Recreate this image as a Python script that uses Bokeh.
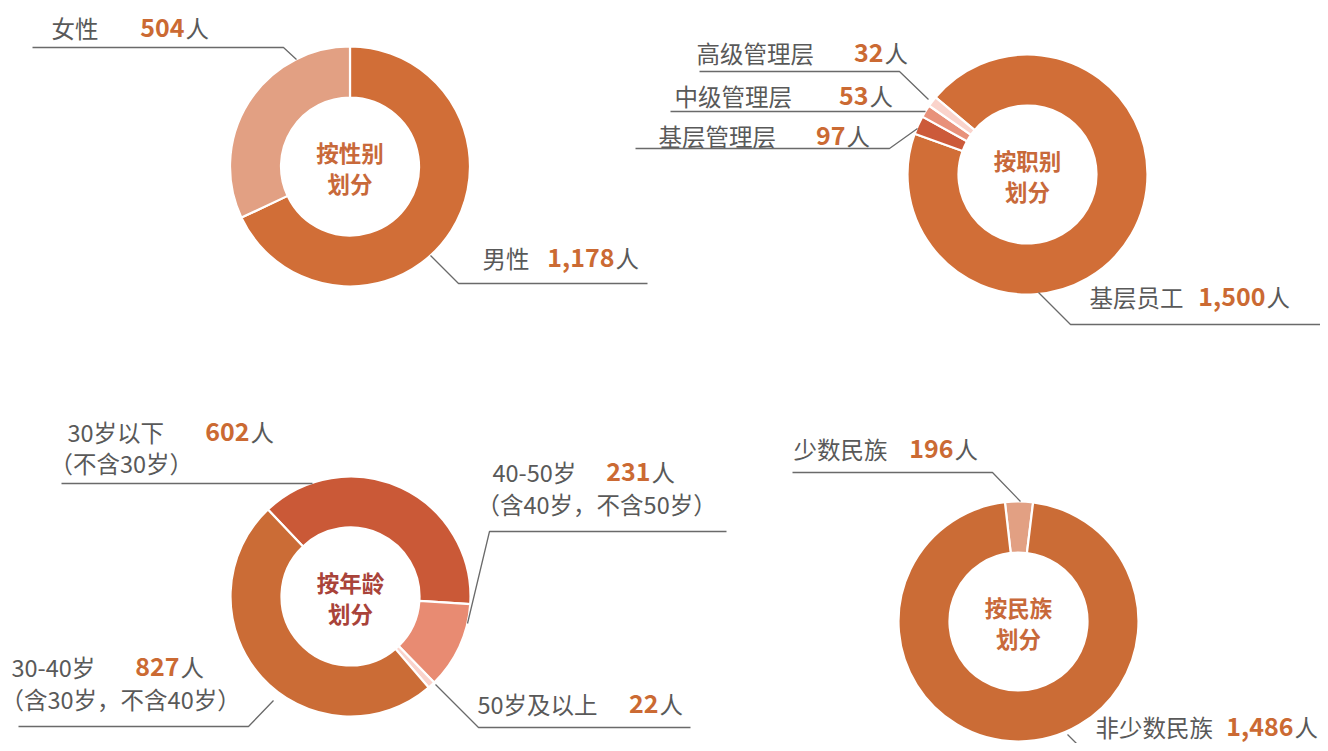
import math
from bokeh.plotting import figure
from bokeh.models import Range1d, ColumnDataSource
from bokeh.embed import file_html
from bokeh.resources import INLINE
from bokeh.core.properties import value

# ---------------- data ----------------
gender_labels = ["男性", "女性"]
gender_counts = [1178, 504]
gender_share = [68.0, 32.0]          # share of the ring as drawn (%)

level_labels = ["基层员工", "基层管理层", "中级管理层", "高级管理层"]
level_counts = [1500, 97, 53, 32]
level_share = [94.4, 2.5, 1.7, 1.4]

age_labels = ["30岁以下", "40-50岁", "50岁及以上", "30-40岁"]
age_notes = ["（不含30岁）", "（含40岁，不含50岁）", "", "（含30岁，不含40岁）"]
age_counts = [602, 231, 22, 827]
age_share = [38.1, 11.7, 1.0, 49.2]

ethnic_labels = ["少数民族", "非少数民族"]
ethnic_counts = [196, 1486]
ethnic_share = [3.75, 96.25]

unit = "人"

# ---------------- styles ----------------
FONT = value("Noto Sans CJK SC")
LABEL_C = "#595959"
NUM_C = "#CB6A33"
LINE_C = "#6A6A6A"
LAB_FS = "23.5px"
NUM_FS = "25px"
R_IN, R_OUT = 69, 120

W, H = 1320, 743
p = figure(width=W, height=H, x_range=Range1d(0, W), y_range=Range1d(0, H),
           output_backend="svg", toolbar_location=None, min_border=0,
           x_axis_type=None, y_axis_type=None)
p.grid.visible = False
p.outline_line_color = None
p.background_fill_color = "white"
p.border_fill_color = "white"


def Y(y):
    return H - y


def donut(cx, cy, start_cw, shares, colors, title, title_color):
    total = float(sum(shares))
    starts, ends = [], []
    acc = start_cw
    for s in shares:
        a1, a2 = acc, acc + s / total * 360.0
        starts.append(math.radians(90 - a2))
        ends.append(math.radians(90 - a1))
        acc = a2
    n = len(shares)
    src = ColumnDataSource(dict(x=[cx] * n, y=[Y(cy)] * n, s=starts, e=ends, c=colors))
    p.annular_wedge(x="x", y="y", inner_radius=R_IN, outer_radius=R_OUT,
                    start_angle="s", end_angle="e", fill_color="c",
                    line_color="white", line_width=2.2, source=src)
    p.text(x=[cx, cx], y=[Y(cy - 15), Y(cy + 16)], text=title,
           text_font=FONT, text_font_size="22.5px", text_font_style="bold",
           text_color=title_color, text_align="center", text_baseline="middle")


def labels(names, counts, lab_x, lab_y, ren_x):
    p.text(x=lab_x, y=[Y(v) for v in lab_y], text=names, text_font=FONT,
           text_font_size=LAB_FS, text_color=LABEL_C, text_align="left",
           text_baseline="middle")
    p.text(x=[v - 1 for v in ren_x], y=[Y(v) for v in lab_y],
           text=[f"{c:,}" for c in counts], text_font=FONT,
           text_font_size=NUM_FS, text_font_style="bold", text_color=NUM_C,
           text_align="right", text_baseline="middle")
    p.text(x=ren_x, y=[Y(v) for v in lab_y], text=[unit] * len(names),
           text_font=FONT, text_font_size=LAB_FS, text_color=LABEL_C,
           text_align="left", text_baseline="middle")


def leaders(paths):
    p.multi_line(xs=[[pt[0] for pt in path] for path in paths],
                 ys=[[Y(pt[1]) for pt in path] for path in paths],
                 line_color=LINE_C, line_width=1.3)


# ---------------- gender ----------------
donut(349.5, 166, 0, gender_share, ["#D16E37", "#E2A083"], ["按性别", "划分"], "#C8693A")
labels(gender_labels, gender_counts, [482, 51], [257, 27], [615, 185])
leaders([[(430, 255), (458, 283), (647, 283)],
         [(296, 59), (283, 47), (32, 47)]])

# ---------------- level ----------------
donut(1027, 174, 310, level_share, ["#D16E37", "#CC5A3A", "#E8917A", "#FAD3CB"],
      ["按职别", "划分"], "#C8693A")
labels(level_labels, level_counts, [1089, 658, 674, 696], [296, 135, 95, 52],
       [1266, 846, 869, 884])
leaders([[(1038, 292), (1070, 324), (1330, 324)],
         [(917, 128), (889, 148), (635, 148)],
         [(925, 111), (670, 111)],
         [(928, 99), (899, 71), (699, 71)]])

# ---------------- age ----------------
donut(350, 596, 316.5, age_share, ["#CA5937", "#E88B72", "#FAD3CB", "#CB6C36"],
      ["按年龄", "划分"], "#A9433A")
labels(age_labels, age_counts, [67, 492, 477, 11], [431, 471, 703, 666],
       [250, 651, 659, 180])
note_idx = [i for i, t in enumerate(age_notes) if t]
note_x = {0: 49, 1: 476, 3: 0}
note_y = {0: 462, 1: 503, 3: 698}
p.text(x=[note_x[i] for i in note_idx], y=[Y(note_y[i]) for i in note_idx],
       text=[age_notes[i] for i in note_idx], text_font=FONT, text_font_size=LAB_FS,
       text_color=LABEL_C, text_align="left", text_baseline="middle")
leaders([[(312, 483), (61, 483)],
         [(467, 623), (489, 531), (726, 531)],
         [(435, 684), (478, 727), (690, 727)],
         [(273, 700), (248, 726), (18, 726)]])

# ---------------- ethnic ----------------
donut(1018, 621, -6.5, ethnic_share, ["#E2A083", "#CB6C36"], ["按民族", "划分"], "#C8693A")
labels(ethnic_labels, ethnic_counts, [793, 1095], [448, 726], [954, 1294])
leaders([[(1020, 501), (992, 472), (792, 472)],
         [(1067, 734), (1090, 757)]])

open("out.html", "w").write(file_html(p, INLINE))
